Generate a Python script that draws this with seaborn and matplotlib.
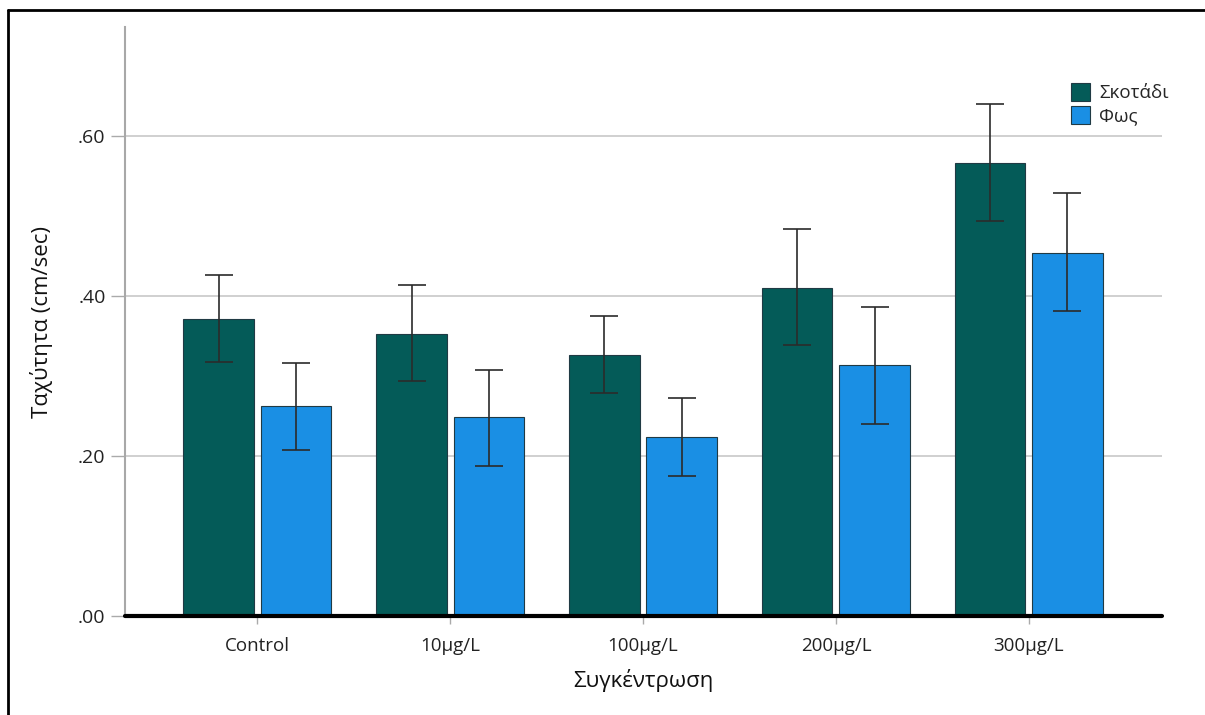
import matplotlib
matplotlib.use("Agg")
import matplotlib.pyplot as plt
from matplotlib.lines import Line2D
import seaborn as sns
import pandas as pd
import numpy as np

# Mean speed per concentration and lighting condition, with interval bounds
categories = ["Control", "10μg/L", "100μg/L", "200μg/L", "300μg/L"]
conditions = ["Σκοτάδι", "Φως"]
dark_mean = [0.371, 0.353, 0.326, 0.410, 0.566]
dark_low = [0.318, 0.294, 0.279, 0.339, 0.494]
dark_high = [0.426, 0.413, 0.375, 0.483, 0.640]
light_mean = [0.263, 0.249, 0.224, 0.314, 0.454]
light_low = [0.208, 0.188, 0.175, 0.240, 0.381]
light_high = [0.316, 0.308, 0.273, 0.386, 0.528]
y_ticks = [0.0, 0.2, 0.4, 0.6]
y_tick_labels = [".00", ".20", ".40", ".60"]

palette = {"Σκοτάδι": "#045b58", "Φως": "#1a8fe4"}

df = pd.DataFrame({
    "Συγκέντρωση": categories * 2,
    "Συνθήκη": [conditions[0]] * 5 + [conditions[1]] * 5,
    "Ταχύτητα": dark_mean + light_mean,
})
lows = dark_low + light_low
highs = dark_high + light_high

sns.set_style("white")
plt.rcParams["font.family"] = ["Open Sans", "DejaVu Sans"]

fig = plt.figure(figsize=(12.05, 7.15), dpi=100)
ax = fig.add_axes([125 / 1205, 1 - 616 / 715, (1162 - 125) / 1205, (616 - 27) / 715])

sns.barplot(data=df, x="Συγκέντρωση", y="Ταχύτητα", hue="Συνθήκη",
            order=categories, hue_order=conditions, palette=palette,
            errorbar=None, width=0.8, gap=0.09, saturation=1,
            edgecolor="#203a44", linewidth=0.8, ax=ax)

# interval whiskers at the centre of each bar
dark_rgba = matplotlib.colors.to_rgba(palette["Σκοτάδι"])
bars = [p for p in ax.patches if p.get_height() > 0][:10]
bars.sort(key=lambda p: (0 if np.allclose(p.get_facecolor()[:3], dark_rgba[:3]) else 1, p.get_x()))
for p, lo, hi in zip(bars, lows, highs):
    xc = p.get_x() + p.get_width() / 2
    m = p.get_height()
    ax.errorbar(xc, m, yerr=[[m - lo], [hi - m]], fmt="none",
                ecolor="#2b2b2b", elinewidth=1.2, capsize=10, capthick=1.2, zorder=5)

ax.set_xlim(-0.685, 4.69)
ax.set_ylim(0, 0.736)
ax.set_yticks(y_ticks)
ax.set_yticklabels(y_tick_labels, fontsize=14, color="#222222")
ax.tick_params(axis="x", labelsize=13.5, colors="#222222", length=6, width=1, color="#aaaaaa", pad=9)
ax.tick_params(axis="y", length=10, width=1, color="#aaaaaa", pad=4, left=True)
ax.tick_params(axis="x", bottom=True)

for y in y_ticks[1:]:
    ax.axhline(y, color="#c8c8c8", linewidth=1.2, zorder=0)
ax.axhline(0, color="black", linewidth=3, zorder=6, clip_on=False)

for s in ["top", "right"]:
    ax.spines[s].set_visible(False)
ax.spines["left"].set_color("#a8a8a8")
ax.spines["left"].set_linewidth(1.5)
ax.spines["bottom"].set_visible(False)

ax.set_xlabel("Συγκέντρωση", fontsize=16, color="#111111", labelpad=10)
ax.set_ylabel("Ταχύτητα (cm/sec)", fontsize=16, color="#111111", labelpad=18)

leg = ax.legend(loc="upper left", bbox_to_anchor=(0.905, 0.918), frameon=False,
                fontsize=13.5, handlelength=1.0, handleheight=1.1,
                handletextpad=0.5, labelspacing=0.2, borderaxespad=0)
for h in leg.legend_handles:
    h.set_edgecolor("#203a44")
    h.set_linewidth(0.8)

# page frame along the top and left edges
fig.add_artist(Line2D([8 / 1205, 1.0], [1 - 10 / 715, 1 - 10 / 715], color="black", linewidth=2))
fig.add_artist(Line2D([8 / 1205, 8 / 1205], [0, 1 - 10 / 715], color="black", linewidth=2))

fig.savefig("out.png", dpi=100, facecolor="white")
